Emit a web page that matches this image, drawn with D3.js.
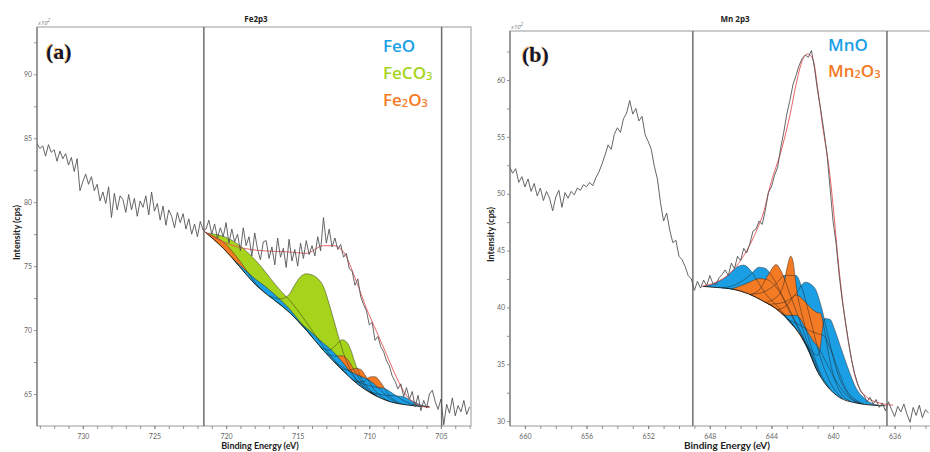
<!DOCTYPE html>
<html>
<head>
<meta charset="utf-8">
<script src="https://cdn.jsdelivr.net/npm/d3@7"></script>
<style>
  body { margin: 0; background: #fff; }
  svg { display: block; }
</style>
</head>
<body>
<div id="chart"></div>
<script>
var width = 930, height = 452;

// ---- (a) Fe 2p3 : measured counts (x100), 0.2 eV steps from 733.2 eV
var feStart = 733.2, feStep = 0.2;
var feCounts = [
  84.6, 84.2, 84.4, 83.6, 84.5, 83.9, 84.1, 83.2, 84.0, 83.4,
  83.8, 82.9, 83.5, 82.4, 83.4, 80.9, 81.6, 82.2, 81.4, 82.0,
  80.9, 81.4, 80.1, 80.8, 79.9, 81.2, 78.8, 80.7, 79.4, 80.5,
  80.2, 79.2, 80.6, 79.4, 80.3, 78.9, 80.1, 79.6, 80.5, 79.0,
  80.8, 79.3, 79.9, 78.6, 79.7, 78.2, 79.4, 78.9, 78.0, 79.2,
  78.4, 79.1, 77.9, 78.7, 77.5, 78.3, 77.3, 78.5, 77.8, 77.9,
  78.6, 77.5, 78.3, 77.2, 78.0, 77.3, 78.4, 76.8, 77.9, 76.9,
  77.5, 76.2, 78.0, 76.6, 77.3, 75.8, 77.6, 76.3, 75.5, 76.9,
  77.0, 75.6, 76.5, 75.1, 77.2, 75.7, 76.4, 74.9, 77.1, 75.4,
  76.3, 75.0, 76.8, 75.6, 77.0, 75.9, 76.6, 75.8, 77.3, 76.2,
  78.8, 76.8, 77.9, 76.5, 77.2, 76.3, 76.7, 75.7, 76.0, 74.8,
  74.6, 73.5, 74.0, 72.6, 72.0, 71.5, 70.4, 70.6, 69.2, 69.5,
  68.7, 68.3, 67.6, 67.2, 66.4, 66.0, 65.4, 65.8, 64.8, 65.5,
  64.6, 65.2, 64.0, 64.9, 63.7, 64.5, 63.9, 65.0, 65.3, 64.4,
  63.8, 64.6, 62.6, 64.2, 63.5, 64.7, 63.3, 64.1, 63.6, 64.5,
  63.4, 64.0
];
var feEnvelope = [[721.5, 77.7], [720.2, 76.9], [717.9, 76.25], [715.5, 76.1], [714.4, 76.0],
  [713.2, 76.6], [712.5, 76.6], [711.8, 76.1], [710.9, 73.8], [710.2, 71.7], [709.5, 69.9],
  [708.8, 68.1], [708.3, 66.8], [707.6, 65.2], [706.7, 64.2], [705.8, 63.95]];
var feBgEnergy = [721.5, 720.2, 717.9, 715.5, 714.4, 713.2, 712.0, 710.9, 709.7, 708.55, 707.4, 706.2, 705.8];
var feBgCounts = [77.7, 76.4, 73.5, 71.3, 70.0, 68.4, 67.0, 65.85, 64.95, 64.4, 64.15, 64.02, 64.0];
// component heights above background: [eV, counts]
var feco3Peaks = [
  [[721.4, 0], [720.8, 0.5], [720.0, 1.1], [719.2, 1.6], [718.4, 1.85], [717.6, 1.8], [716.9, 1.45], [716.2, 1.15], [715.5, 0.95], [714.6, 0.7], [713.6, 0.4], [712.6, 0.15], [711.6, 0]],
  [[717.0, 0], [716.2, 0.5], [715.6, 1.4], [715.2, 2.6], [714.8, 3.7], [714.4, 4.4], [714.0, 4.85], [713.6, 5.1], [713.2, 5.0], [712.8, 4.1], [712.4, 3.0], [712.0, 1.9], [711.6, 1.0], [711.0, 0.35], [710.4, 0]],
  [[713.4, 0], [712.8, 0.5], [712.3, 1.5], [711.9, 2.35], [711.6, 2.5], [711.3, 2.2], [711.0, 1.5], [710.6, 0.7], [710.0, 0.2], [709.4, 0]]
];
var fe2o3Peaks = [
  [[721.4, 0], [720.8, 0.3], [720.2, 0.5], [719.6, 0.55], [719.0, 0.45], [718.4, 0.25], [717.8, 0.08], [717.2, 0]],
  [[713.0, 0], [712.4, 0.5], [711.9, 1.1], [711.5, 1.2], [711.1, 0.9], [710.6, 0.4], [710.0, 0.1], [709.5, 0]],
  [[712.0, 0], [711.4, 0.5], [710.9, 1.15], [710.6, 1.3], [710.2, 1.0], [709.7, 0.45], [709.1, 0.1], [708.6, 0]],
  [[711.0, 0], [710.4, 0.5], [709.9, 1.25], [709.6, 1.45], [709.2, 1.2], [708.7, 0.55], [708.2, 0.15], [707.7, 0]]
];
var feoPeaks = [
  [[719.6, 0], [718.8, 0.2], [718.0, 0.4], [717.2, 0.5], [716.4, 0.45], [715.6, 0.3], [714.8, 0.12], [714.0, 0]],
  [[715.0, 0], [714.2, 0.25], [713.4, 0.5], [712.6, 0.7], [711.8, 0.6], [711.0, 0.3], [710.2, 0.05], [709.6, 0]],
  [[712.4, 0], [711.6, 0.35], [710.8, 0.7], [710.0, 0.9], [709.3, 0.65], [708.6, 0.25], [708.0, 0]],
  [[711.2, 0], [710.4, 0.3], [709.6, 0.65], [708.9, 0.85], [708.2, 0.6], [707.5, 0.25], [706.8, 0.05], [706.2, 0]],
  [[710.0, 0], [709.2, 0.25], [708.4, 0.5], [707.7, 0.6], [707.0, 0.35], [706.4, 0.1], [705.8, 0]]
];
var feXTicks = [730, 725, 720, 715, 710, 705];
var feYTicks = [65, 70, 75, 80, 85, 90];
var feMarkers = [721.55, 704.95];
var feLegend = ['FeO', 'FeCO3', 'Fe2O3'];

// ---- (b) Mn 2p3 : measured counts (x100), 0.2 eV steps from 661.0 eV
var mnStart = 661.0, mnStep = 0.2;
var mnCounts = [
  52.4, 51.8, 52.2, 51.0, 51.5, 50.6, 51.3, 50.2, 50.9, 49.8,
  50.5, 49.4, 50.2, 49.6, 48.5, 49.7, 50.3, 48.8, 50.1, 49.6,
  50.2, 49.9, 50.5, 50.3, 50.8, 50.6, 51.0, 50.7, 51.4, 51.9,
  52.6, 53.4, 54.3, 53.9, 55.2, 55.8, 55.4, 56.6, 57.1, 58.2,
  57.0, 57.5, 56.4, 56.8, 55.2, 54.6, 53.9, 52.4, 51.3, 49.2,
  47.6, 48.3, 46.8, 45.7, 45.9, 44.5, 44.2, 43.6, 42.8, 42.5,
  41.5, 42.3, 41.7, 42.4, 41.9, 42.8, 42.1, 42.0, 42.6, 42.9,
  43.3, 42.8, 43.9, 43.4, 44.5, 44.1, 45.2, 44.8, 45.6, 46.7,
  46.9, 47.6, 47.3, 48.5, 50.1, 50.6, 51.6, 52.3, 54.0, 55.4,
  57.0, 58.2, 59.6, 60.4, 61.3, 61.9, 62.2, 62.0, 62.6, 61.0,
  59.0, 57.4, 55.6, 53.6, 50.6, 47.6, 45.6, 42.8, 40.6, 38.8,
  37.0, 35.4, 34.2, 33.3, 32.6, 32.3, 31.7, 32.1, 31.5, 31.9,
  31.2, 31.6, 30.9, 31.7, 31.0, 30.4, 31.3, 30.8, 31.5, 30.6,
  29.9, 31.2, 30.5, 31.4, 30.3, 31.0, 30.7
];
var mnEnvelope = [[648.5, 41.85], [647.8, 42.1], [646.7, 43.0], [645.6, 45.0], [644.95, 46.8],
  [644.5, 48.4], [644.1, 50.6], [643.3, 54.1], [642.8, 56.9], [642.4, 59.6], [642.0, 61.7],
  [641.65, 62.3], [641.3, 61.8], [641.0, 59.3], [640.7, 56.2], [640.2, 51.6], [639.9, 47.6],
  [639.7, 44.6], [639.4, 40.8], [638.9, 36.2], [638.5, 33.6], [637.8, 32.1], [637.0, 31.6], [636.1, 31.4]];
var mnBgEnergy = [648.45, 647.5, 646.5, 645.5, 644.6, 643.5, 642.4, 641.7, 641.1, 640.4, 639.6, 638.5, 637.4, 636.6];
var mnBgCounts = [41.85, 41.75, 41.6, 41.2, 40.6, 39.7, 38.1, 36.6, 34.6, 33.1, 32.1, 31.6, 31.4, 31.35];
var mnoPeaksFirst = [
  [[648.4, 0], [647.6, 0.4], [646.8, 1.2], [646.2, 2.1], [645.8, 2.4], [645.4, 2.2], [644.9, 1.5], [644.4, 0.8], [643.6, 0.3], [642.6, 0]],
  [[647.2, 0], [646.2, 0.6], [645.4, 1.7], [644.8, 2.8], [644.4, 3.0], [644.0, 2.7], [643.5, 1.9], [642.9, 1.0], [642.2, 0.3], [641.4, 0]],
  [[645.4, 0], [644.6, 0.7], [643.8, 2.0], [643.1, 3.7], [642.4, 4.7], [642.0, 4.4], [641.5, 3.2], [640.9, 1.8], [640.2, 0.6], [639.4, 0]],
  [[644.2, 0], [643.3, 1.0], [642.5, 2.8], [641.8, 5.4], [641.2, 6.8], [640.8, 6.3], [640.3, 4.4], [639.7, 2.0], [639.0, 0.5], [638.2, 0]],
  [[643.0, 0], [642.2, 0.8], [641.5, 2.0], [641.0, 3.3], [640.6, 4.0], [640.2, 3.6], [639.7, 2.4], [639.2, 1.0], [638.6, 0.3], [638.0, 0]]
];
var mn2o3Peaks = [
  [[646.6, 0], [646.0, 0.5], [645.4, 1.1], [644.8, 1.8], [644.3, 2.1], [643.8, 2.0], [643.2, 1.5], [642.5, 0.7], [641.8, 0.2], [641.0, 0]],
  [[645.4, 0], [644.8, 0.8], [644.2, 2.6], [643.7, 3.9], [643.3, 3.6], [642.8, 2.5], [642.2, 1.3], [641.5, 0.4], [640.8, 0]],
  [[644.4, 0], [643.7, 1.0], [643.2, 2.8], [642.95, 4.8], [642.75, 5.9], [642.6, 5.7], [642.45, 4.4], [642.3, 3.2], [642.05, 2.2], [641.6, 1.1], [640.9, 0.3], [640.2, 0]],
  [[643.6, 0], [643.0, 1.2], [642.4, 3.0], [641.9, 3.6], [641.5, 4.1], [641.1, 5.0], [640.8, 5.5], [640.6, 4.8], [640.3, 3.0], [639.9, 1.2], [639.4, 0.3], [638.9, 0]]
];
var mnoPeaksLast = [
  [[642.0, 0], [641.4, 0.6], [641.0, 1.4], [640.85, 2.2], [640.7, 4.2], [640.55, 5.6], [640.2, 6.1], [639.9, 5.6], [639.55, 4.6], [639.2, 3.4], [638.9, 2.4], [638.5, 1.3], [638.05, 0.6], [637.6, 0.2], [637.0, 0]],
  [[643.3, 0], [642.8, 0.6], [642.4, 1.2], [641.7, 1.35], [641.3, 1.8], [640.9, 2.2], [640.5, 2.0], [640.0, 1.4], [639.4, 0.7], [638.8, 0.2], [638.2, 0]]
];
var mnXTicks = [660, 656, 652, 648, 644, 640, 636];
var mnYTicks = [30, 35, 40, 45, 50, 55, 60];
var mnMarkers = [649.1, 636.5];
var mnLegend = ['MnO', 'Mn2O3'];

var blue = '#1b9fe4', green = '#a6d41c', orange = '#f47a24';

var svg = d3.select('#chart').append('svg')
  .attr('width', width).attr('height', height)
  .style('font-family', "'Open Sans', sans-serif");

function drawPanel(c) {
  var x = d3.scaleLinear().domain(c.xDomain).range([c.left, c.right]);
  var y = d3.scaleLinear().domain(c.yDomain).range([c.bottom, c.top]);
  var bg = d3.scaleLinear().domain(c.bgEnergy).range(c.bgCounts).clamp(true);
  var g = svg.append('g');

  svg.append('clipPath').attr('id', 'clip-' + c.id).append('rect')
    .attr('x', c.left).attr('y', c.top)
    .attr('width', c.frameRight - c.left).attr('height', c.bottom - c.top);

  // frame
  g.append('rect')
    .attr('x', c.left).attr('y', c.top)
    .attr('width', c.frameRight - c.left).attr('height', c.bottom - c.top)
    .attr('fill', 'none').attr('stroke', '#aaa').attr('stroke-width', 1.2);
  g.append('line')
    .attr('x1', c.left).attr('x2', c.left).attr('y1', c.top).attr('y2', c.bottom)
    .attr('stroke', '#999').attr('stroke-width', 2);

  // axes
  var xAxisG = g.append('g').attr('transform', 'translate(0,' + c.bottom + ')');
  xAxisG.append('g').call(d3.axisBottom(x).tickValues(c.xMinor).tickSize(3).tickFormat(''));
  xAxisG.append('g').call(d3.axisBottom(x).tickValues(c.xTicks).tickSize(3).tickPadding(5).tickFormat(d3.format('d')));
  var yAxisG = g.append('g').attr('transform', 'translate(' + c.left + ',0)');
  yAxisG.append('g').call(d3.axisLeft(y).tickValues(c.yMinor).tickSize(3).tickFormat(''));
  yAxisG.append('g').call(d3.axisLeft(y).tickValues(c.yTicks).tickSize(3).tickPadding(2).tickFormat(d3.format('d')));
  g.selectAll('.domain').remove();
  g.selectAll('.tick line').attr('stroke', '#777').attr('stroke-width', 0.8);
  g.selectAll('.tick text').attr('fill', '#666')
    .style('font-size', '7px').style('font-family', 'Lato, sans-serif');

  // region markers
  g.selectAll('line.marker').data(c.markers).join('line')
    .attr('class', 'marker')
    .attr('x1', function(d){ return x(d); }).attr('x2', function(d){ return x(d); })
    .attr('y1', c.top).attr('y2', c.bottom)
    .attr('stroke', '#6e6e6e').attr('stroke-width', 1.5);

  var plot = g.append('g').attr('clip-path', 'url(#clip-' + c.id + ')');

  // fitted components, each sitting on the background; outlines go on top of all fills
  var area = d3.area().curve(d3.curveMonotoneX)
    .x(function(d){ return x(d[0]); })
    .y0(function(d){ return y(bg(d[0])); })
    .y1(function(d){ return y(bg(d[0]) + d[1]); });
  var topLine = d3.line().curve(d3.curveMonotoneX)
    .x(function(d){ return x(d[0]); })
    .y(function(d){ return y(bg(d[0]) + d[1]); });
  c.components.forEach(function(comp){
    comp.peaks.forEach(function(p){
      plot.append('path').attr('d', area(p)).attr('fill', comp.color);
    });
  });
  c.components.forEach(function(comp){
    comp.peaks.forEach(function(p){
      plot.append('path').attr('d', topLine(p))
        .attr('fill', 'none').attr('stroke', '#1c1c1c').attr('stroke-width', 0.55).attr('stroke-opacity', 0.8);
    });
  });

  // background
  var bgPts = c.bgEnergy.map(function(e, i){ return [e, c.bgCounts[i]]; });
  plot.append('path')
    .attr('d', d3.line().curve(d3.curveMonotoneX)
      .x(function(d){ return x(d[0]); }).y(function(d){ return y(d[1]); })(bgPts))
    .attr('fill', 'none').attr('stroke', '#111').attr('stroke-width', 0.9);

  // envelope
  plot.append('path')
    .attr('d', d3.line().curve(d3.curveMonotoneX)
      .x(function(d){ return x(d[0]); }).y(function(d){ return y(d[1]); })(c.envelope))
    .attr('fill', 'none').attr('stroke', '#e5484d').attr('stroke-width', 1).attr('stroke-opacity', 0.85);

  // raw data
  var dataLine = d3.line()
    .x(function(d, i){ return x(c.start - i * c.step); })
    .y(function(d){ return y(d); });
  plot.append('path').attr('d', dataLine(c.counts))
    .attr('fill', 'none').attr('stroke', '#555').attr('stroke-width', 1).attr('stroke-opacity', 0.9);

  // texts
  g.append('text').attr('x', c.titleX).attr('y', 22)
    .attr('text-anchor', 'middle').attr('fill', '#222')
    .style('font-size', '8px').style('font-weight', 700).text(c.title);

  var exp = g.append('text').attr('x', c.left + 1).attr('y', c.top - 2)
    .attr('fill', '#777').style('font-size', '6px').style('font-style', 'italic').text('x10');
  exp.append('tspan').attr('dy', -3).style('font-size', '4.5px').text('2');

  g.append('text')
    .attr('transform', 'translate(' + c.yTitleX + ',' + ((c.top + c.bottom) / 2 + 6) + ') rotate(-90)')
    .attr('text-anchor', 'middle').attr('fill', '#222')
    .style('font-family', 'Lato, sans-serif').style('font-size', '9px').style('font-weight', 700)
    .text('Intensity (cps)');
  g.append('text').attr('x', c.xTitleX).attr('y', 449)
    .attr('text-anchor', 'middle').attr('fill', '#222')
    .style('font-family', 'Lato, sans-serif').style('font-size', c.xTitleSize).style('font-weight', 700)
    .text('Binding Energy (eV)');

  // panel letter
  [['#e9a23b', -0.8, 0.7], ['#15152a', 0, 1]].forEach(function(s){
    g.append('text').attr('x', c.letterX + s[1]).attr('y', c.letterY + s[1])
      .attr('fill', s[0]).attr('fill-opacity', s[2])
      .style('font-family', "'Liberation Serif', 'DejaVu Serif', serif")
      .style('font-size', '22px').style('font-weight', 700)
      .text(c.letter);
  });

  // legend
  c.legend.forEach(function(name, i){
    var t = g.append('text').attr('x', c.legendX).attr('y', c.legendY + i * c.legendGap)
      .attr('fill', c.legendColors[i])
      .style('font-size', '17px').style('font-weight', 600);
    name.match(/\d+|\D+/g).forEach(function(part){
      var isSub = /\d/.test(part);
      t.append('tspan').attr('dy', isSub ? 1 : (t.selectAll('tspan').size() ? -1 : 0))
        .style('font-size', isSub ? '11px' : '17px').text(part);
    });
  });
}

drawPanel({
  id: 'fe', left: 37, right: 471, frameRight: 471, top: 27, bottom: 426,
  xDomain: [733.2, 702.9], yDomain: [62.5, 93.7],
  xTicks: feXTicks, xMinor: d3.range(703, 734),
  yTicks: feYTicks, yMinor: feYTicks.map(function(v){ return v + 2.5; }),
  markers: feMarkers,
  bgEnergy: feBgEnergy, bgCounts: feBgCounts,
  components: [{peaks: feco3Peaks, color: green}, {peaks: fe2o3Peaks, color: orange}, {peaks: feoPeaks, color: blue}],
  envelope: feEnvelope, start: feStart, step: feStep, counts: feCounts,
  title: 'Fe2p3', titleX: 256, yTitleX: 20, xTitleX: 260, xTitleSize: '9px',
  letter: '(a)', letterX: 46, letterY: 59,
  legend: feLegend, legendColors: [blue, green, orange], legendX: 383, legendY: 53, legendGap: 27
});

drawPanel({
  id: 'mn', left: 510, right: 927, frameRight: 931, top: 31, bottom: 426,
  xDomain: [660.97, 633.9], yDomain: [29.57, 64.31],
  xTicks: mnXTicks, xMinor: d3.range(634, 661),
  yTicks: mnYTicks, yMinor: mnYTicks.map(function(v){ return v + 2.5; }),
  markers: mnMarkers,
  bgEnergy: mnBgEnergy, bgCounts: mnBgCounts,
  components: [{peaks: mnoPeaksFirst, color: blue}, {peaks: mn2o3Peaks, color: orange}, {peaks: mnoPeaksLast, color: blue}],
  envelope: mnEnvelope, start: mnStart, step: mnStep, counts: mnCounts,
  title: 'Mn 2p3', titleX: 735, yTitleX: 494, xTitleX: 727, xTitleSize: '10px',
  letter: '(b)', letterX: 522, letterY: 62,
  legend: mnLegend, legendColors: [blue, orange], legendX: 828, legendY: 52, legendGap: 26
});
</script>
</body>
</html>
